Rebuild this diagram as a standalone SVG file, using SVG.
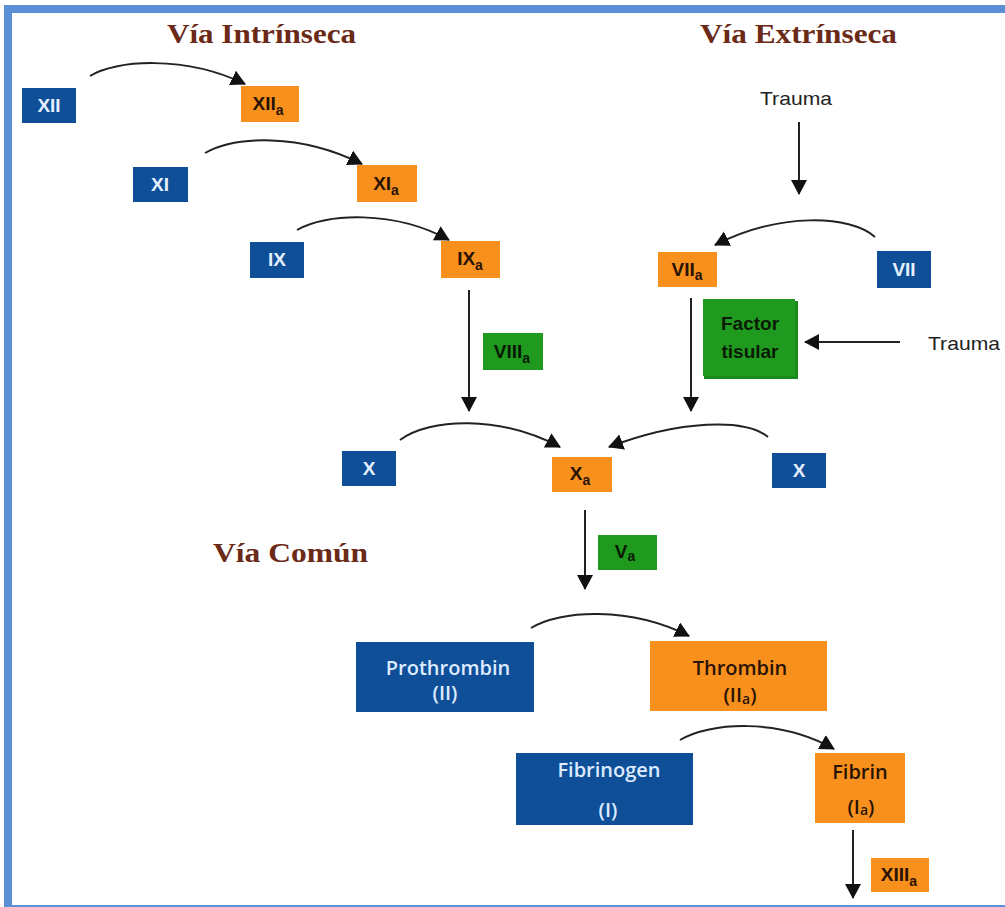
<svg xmlns="http://www.w3.org/2000/svg" width="1005" height="907" viewBox="0 0 1005 907">
<defs>
<marker id="ah" markerUnits="userSpaceOnUse" markerWidth="18" markerHeight="18" refX="14" refY="8" orient="auto">
<path d="M0,0 L15,8 L0,16 Z" fill="#111"/>
</marker>
<style>
.blue{fill:#0f4f98}
.orange{fill:#f7901c}
.green{fill:#1f9a1f}
.tb{font-family:"Liberation Sans Narrow","Liberation Sans",Arial,sans-serif;font-weight:bold;font-size:19px;fill:#e6efff;text-anchor:middle}
.to{font-family:"Liberation Sans Narrow","Liberation Sans",Arial,sans-serif;font-weight:bold;font-size:19px;fill:#2a1306;text-anchor:middle}
.tg{font-family:"Liberation Sans Narrow","Liberation Sans",Arial,sans-serif;font-weight:bold;font-size:19px;fill:#0a1a05;text-anchor:middle}
.big{font-family:"Open Sans","Liberation Sans",Arial,sans-serif;font-weight:600;font-size:20px;text-anchor:middle}
.title{font-family:"Liberation Serif","Times New Roman",serif;font-weight:bold;font-size:27px;fill:#6b2a18}
.plain{font-family:"Liberation Sans",Arial,sans-serif;font-size:19px;fill:#222}
.sub{font-size:14px}
.con{fill:none;stroke:#222;stroke-width:2;marker-end:url(#ah)}
</style>
</defs>
<rect x="0" y="0" width="1005" height="907" fill="#fff"/>
<rect x="8" y="9" width="1010" height="900" fill="none" stroke="#5b8fd6" stroke-width="8"/>

<g id="titles">
<text class="title" x="167" y="43" textLength="189" lengthAdjust="spacingAndGlyphs">Vía Intrínseca</text>
<text class="title" x="700" y="43" textLength="197" lengthAdjust="spacingAndGlyphs">Vía Extrínseca</text>
<text class="title" x="213" y="562" textLength="155" lengthAdjust="spacingAndGlyphs">Vía Común</text>
</g>

<g id="connectors">
<path class="con" d="M90,76 C115,60 185,55 245,84"/>
<path class="con" d="M205,153 C235,136 300,133 362,164"/>
<path class="con" d="M297,230 C325,213 395,210 449,240"/>
<path class="con" d="M875,237 C850,215 780,212 715,245"/>
<path class="con" d="M400,440 C430,418 500,415 560,447"/>
<path class="con" d="M768,437 C745,418 680,420 609,447"/>
<path class="con" d="M531,628 C560,610 630,606 689,636"/>
<path class="con" d="M680,740 C710,722 780,718 834,749"/>
<line class="con" x1="469" y1="290" x2="469" y2="411"/>
<line class="con" x1="691" y1="298" x2="691" y2="411"/>
<line class="con" x1="799" y1="122" x2="799" y2="194"/>
<line class="con" x1="900" y1="342" x2="805" y2="342"/>
<line class="con" x1="585" y1="510" x2="585" y2="589"/>
<line class="con" x1="853" y1="830" x2="853" y2="898"/>
</g>

<g id="trauma1"><text class="plain" x="796" y="105" text-anchor="middle" textLength="72" lengthAdjust="spacingAndGlyphs">Trauma</text></g>
<g id="trauma2"><text class="plain" x="928" y="350" textLength="72" lengthAdjust="spacingAndGlyphs">Trauma</text></g>

<g id="XII"><rect class="blue" x="22" y="88" width="54" height="35"/><text class="tb" x="49" y="112">XII</text></g>
<g id="XIIa"><rect class="orange" x="241" y="86" width="58" height="36"/><text class="to" x="268" y="110">XII<tspan class="sub" dy="5">a</tspan></text></g>
<g id="XI"><rect class="blue" x="133" y="167" width="55" height="35"/><text class="tb" x="160" y="191">XI</text></g>
<g id="XIa"><rect class="orange" x="357" y="165" width="60" height="37"/><text class="to" x="386" y="190">XI<tspan class="sub" dy="5">a</tspan></text></g>
<g id="IX"><rect class="blue" x="250" y="242" width="54" height="36"/><text class="tb" x="277" y="266">IX</text></g>
<g id="IXa"><rect class="orange" x="441" y="241" width="59" height="37"/><text class="to" x="470" y="265">IX<tspan class="sub" dy="5">a</tspan></text></g>
<g id="VIIIa"><rect class="green" x="483" y="333" width="60" height="37"/><text class="tg" x="512" y="358">VIII<tspan class="sub" dy="5">a</tspan></text></g>
<g id="VIIa"><rect class="orange" x="658" y="252" width="59" height="35"/><text class="to" x="687" y="276">VII<tspan class="sub" dy="4">a</tspan></text></g>
<g id="VII"><rect class="blue" x="877" y="251" width="54" height="37"/><text class="tb" x="904" y="276">VII</text></g>
<g id="factor"><rect fill="#1a8a1a" x="704" y="301" width="94" height="78"/><rect class="green" x="703" y="299" width="92" height="77"/><text class="tg" x="750" y="330">Factor</text><text class="tg" x="750" y="358">tisular</text></g>
<g id="Xleft"><rect class="blue" x="342" y="451" width="54" height="35"/><text class="tb" x="369" y="475">X</text></g>
<g id="Xa"><rect class="orange" x="552" y="457" width="60" height="35"/><text class="to" x="580" y="480">X<tspan class="sub" dy="5">a</tspan></text></g>
<g id="Xright"><rect class="blue" x="772" y="453" width="54" height="35"/><text class="tb" x="799" y="477">X</text></g>
<g id="Va"><rect class="green" x="598" y="535" width="59" height="35"/><text class="tg" x="625" y="558">V<tspan class="sub" dy="3">a</tspan></text></g>
<g id="prothrombin"><rect class="blue" x="356" y="642" width="178" height="70"/><text class="big" x="448" y="675" fill="#dcebff">Prothrombin</text><text class="big" x="445" y="700" fill="#dcebff">(II)</text></g>
<g id="thrombin"><rect class="orange" x="650" y="641" width="177" height="70"/><text class="big" x="740" y="675" fill="#2a1306">Thrombin</text><text class="big" x="740" y="702" fill="#2a1306">(II<tspan class="sub" dy="2">a</tspan><tspan dy="-2">)</tspan></text></g>
<g id="fibrinogen"><rect class="blue" x="516" y="753" width="177" height="72"/><text class="big" x="609" y="777" fill="#dcebff">Fibrinogen</text><text class="big" x="608" y="817" fill="#dcebff">(I)</text></g>
<g id="fibrin"><rect class="orange" x="815" y="753" width="90" height="70"/><text class="big" x="860" y="779" fill="#2a1306">Fibrin</text><text class="big" x="861" y="814" fill="#2a1306">(I<tspan class="sub" dy="1">a</tspan><tspan dy="-1">)</tspan></text></g>
<g id="XIIIa"><rect class="orange" x="871" y="858" width="58" height="34"/><text class="to" x="899" y="881">XIII<tspan class="sub" dy="5">a</tspan></text></g>
</svg>
